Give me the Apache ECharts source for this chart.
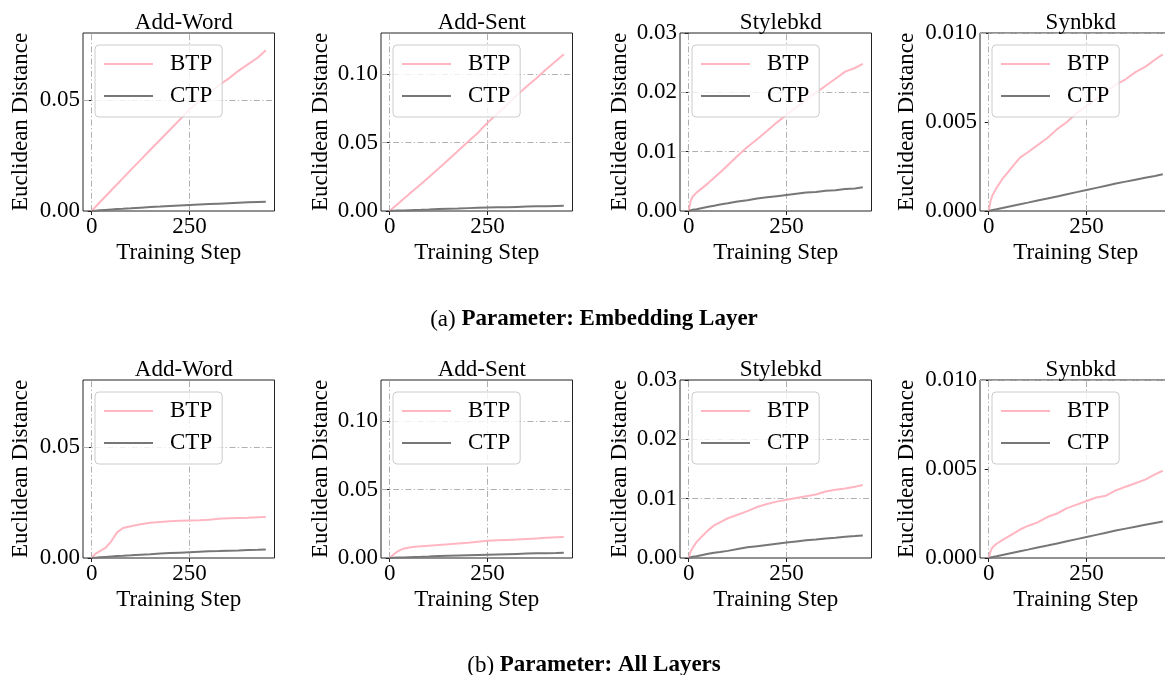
<!DOCTYPE html>
<html>
<head>
<meta charset="utf-8">
<script src="https://cdn.jsdelivr.net/npm/echarts@6/dist/echarts.min.js"></script>
<style>
  html, body { margin: 0; padding: 0; background: #fff; }
  #chart { width: 1165px; height: 675px; }
</style>
</head>
<body>
<div id="chart"></div>
<script>
// ---------------- data ----------------
const steps = [0, 5, 10, 20, 35, 50, 65, 80, 100, 125, 150, 175, 200, 225, 250, 275, 300, 325, 350, 375, 400, 425, 445];

const panelTitles = ['Add-Word', 'Add-Sent', 'Stylebkd', 'Synbkd'];
const seriesNames = ['BTP', 'CTP'];
const xTickValues = [0, 250];
const yMaxValues = [0.08, 0.13, 0.03, 0.01];
const yTickValues = [[0, 0.05], [0, 0.05, 0.10], [0, 0.01, 0.02, 0.03], [0, 0.005, 0.010]];
const yTickDecimals = [2, 2, 2, 3];
const captions = [['(a) ', 'Parameter: Embedding Layer'], ['(b) ', 'Parameter: All Layers']];
const xAxisName = 'Training Step';
const yAxisName = 'Euclidean Distance';

// (a) Parameter: Embedding Layer
const emb_addword_btp = [0, 0.001, 0.0019, 0.0038, 0.0065, 0.0093, 0.012, 0.0148, 0.0185, 0.023, 0.0275, 0.032, 0.0365, 0.041, 0.0455, 0.0495, 0.053, 0.0565, 0.0595, 0.063, 0.066, 0.069, 0.0722];
const emb_addword_ctp = [0, 0.0001, 0.00015, 0.0003, 0.0005, 0.0007, 0.0009, 0.001, 0.0012, 0.0015, 0.0018, 0.002, 0.0023, 0.0025, 0.0027, 0.0029, 0.0031, 0.0033, 0.0035, 0.0037, 0.0039, 0.0041, 0.0042];
const emb_addsent_btp = [0, 0.0012, 0.0025, 0.005, 0.0087, 0.0125, 0.016, 0.0197, 0.0247, 0.031, 0.0375, 0.044, 0.0505, 0.057, 0.0645, 0.071, 0.0775, 0.0845, 0.091, 0.097, 0.1035, 0.1095, 0.1145];
const emb_addsent_ctp = [0, 0.0001, 0.00015, 0.0003, 0.0004, 0.0006, 0.0008, 0.0009, 0.0011, 0.0014, 0.0016, 0.0018, 0.0021, 0.0023, 0.0025, 0.0027, 0.0028, 0.003, 0.0032, 0.0034, 0.0035, 0.0037, 0.0038];
const emb_style_btp = [0, 0.0017, 0.0024, 0.0031, 0.0039, 0.0047, 0.0056, 0.0065, 0.0077, 0.0093, 0.0108, 0.0121, 0.0135, 0.0149, 0.0162, 0.0175, 0.0188, 0.0199, 0.0211, 0.0223, 0.0235, 0.0241, 0.0248];
const emb_style_ctp = [0, 0.0001, 0.0002, 0.0003, 0.0005, 0.0007, 0.0009, 0.0011, 0.0013, 0.0016, 0.0018, 0.0021, 0.0023, 0.0025, 0.0027, 0.0029, 0.0031, 0.0032, 0.0034, 0.0035, 0.0037, 0.0038, 0.004];
const emb_syn_btp = [0, 0.0006, 0.0009, 0.0013, 0.0018, 0.0022, 0.0026, 0.003, 0.0033, 0.0037, 0.0041, 0.0046, 0.005, 0.0055, 0.0059, 0.0063, 0.0067, 0.0071, 0.0074, 0.0078, 0.0081, 0.0085, 0.0088];
const emb_syn_ctp = [0, 0.00003, 0.00006, 0.0001, 0.00017, 0.00024, 0.00031, 0.00038, 0.00047, 0.00059, 0.0007, 0.00082, 0.00094, 0.00106, 0.00118, 0.0013, 0.00142, 0.00154, 0.00165, 0.00176, 0.00187, 0.00197, 0.00206];

// (b) Parameter: All Layers
const all_addword_btp = [0, 0.001, 0.002, 0.003, 0.0045, 0.0075, 0.0115, 0.0135, 0.0143, 0.0152, 0.0158, 0.0162, 0.0165, 0.0167, 0.0169, 0.017, 0.0172, 0.0176, 0.0179, 0.018, 0.0181, 0.0183, 0.0184];
const all_addword_ctp = [0, 0.0001, 0.00015, 0.0003, 0.0005, 0.0007, 0.0009, 0.001, 0.0012, 0.0015, 0.0017, 0.002, 0.0022, 0.0024, 0.0026, 0.0028, 0.003, 0.0031, 0.0033, 0.0034, 0.0036, 0.0037, 0.0038];
const all_addsent_btp = [0, 0.0012, 0.0025, 0.0048, 0.0068, 0.0077, 0.0082, 0.0086, 0.009, 0.0095, 0.01, 0.0106, 0.0112, 0.0119, 0.0126, 0.0129, 0.0132, 0.0135, 0.0139, 0.0143, 0.0147, 0.0151, 0.0154];
const all_addsent_ctp = [0, 0.0001, 0.00015, 0.0003, 0.0004, 0.0006, 0.0008, 0.0009, 0.0011, 0.0014, 0.0016, 0.0018, 0.002, 0.0022, 0.0024, 0.0026, 0.0028, 0.003, 0.0032, 0.0034, 0.0035, 0.0037, 0.0039];
const all_style_btp = [0, 0.0011, 0.0017, 0.0027, 0.0037, 0.0047, 0.0055, 0.006, 0.0067, 0.0073, 0.0079, 0.0086, 0.0091, 0.0095, 0.0098, 0.0101, 0.0104, 0.0107, 0.0112, 0.0115, 0.0117, 0.012, 0.0123];
const all_style_ctp = [0, 0.0001, 0.0002, 0.0003, 0.0005, 0.0007, 0.0009, 0.001, 0.0012, 0.0015, 0.0018, 0.002, 0.0022, 0.0024, 0.0026, 0.0028, 0.003, 0.0031, 0.0033, 0.0034, 0.0036, 0.0037, 0.0038];
const all_syn_btp = [0, 0.0004, 0.0006, 0.0008, 0.001, 0.0012, 0.0014, 0.0016, 0.0018, 0.002, 0.0023, 0.0025, 0.0028, 0.003, 0.0032, 0.0034, 0.0035, 0.0038, 0.004, 0.0042, 0.0044, 0.0047, 0.0049];
const all_syn_ctp = [0, 0.00003, 0.00006, 0.0001, 0.00017, 0.00024, 0.00031, 0.00038, 0.00047, 0.00059, 0.0007, 0.00082, 0.00094, 0.00106, 0.00118, 0.0013, 0.00142, 0.00154, 0.00165, 0.00176, 0.00187, 0.00197, 0.00205];

const rowData = [
  [[emb_addword_btp, emb_addword_ctp], [emb_addsent_btp, emb_addsent_ctp], [emb_style_btp, emb_style_ctp], [emb_syn_btp, emb_syn_ctp]],
  [[all_addword_btp, all_addword_ctp], [all_addsent_btp, all_addsent_ctp], [all_style_btp, all_style_ctp], [all_syn_btp, all_syn_ctp]]
];

// ---------------- layout / style ----------------
const FONT = 'Liberation Serif';
const FS = 23;
const colLeft = [83, 381, 680, 980];
const rowTop = [33, 380];
const gridW = 191.5, gridH = 178;
const yNameGap = [51, 49, 49, 62];
const colors = ['#ffb6c1', '#777777'];
const captionY = [303, 649];

const grids = [], xAxes = [], yAxes = [], series = [], titles = [], legends = [];
let idx = 0;
for (let r = 0; r < 2; r++) {
  for (let c = 0; c < 4; c++) {
    const left = colLeft[c], top = rowTop[r];
    grids.push({ left: left, top: top, width: gridW, height: gridH, show: true, borderColor: '#222', borderWidth: 1, backgroundColor: 'transparent', containLabel: false, outerBoundsMode: 'none' });
    xAxes.push({
      type: 'value', gridIndex: idx, min: -22.25, max: 467.25,
      name: xAxisName, nameLocation: 'middle', nameGap: 30,
      nameTextStyle: { fontFamily: FONT, fontSize: FS, color: '#000' },
      axisLine: { show: false },
      axisTick: { show: true, length: 4, customValues: xTickValues, lineStyle: { color: '#222', width: 1 } },
      axisLabel: { show: true, customValues: xTickValues, margin: 4, fontFamily: FONT, fontSize: FS, color: '#000', formatter: v => String(Math.round(v)) },
      splitLine: { show: false }
    });
    const dec = yTickDecimals[c];
    yAxes.push({
      type: 'value', gridIndex: idx, min: 0, max: yMaxValues[c],
      name: yAxisName, nameLocation: 'middle', nameGap: yNameGap[c], nameRotate: 90,
      nameTextStyle: { fontFamily: FONT, fontSize: FS, color: '#000' },
      axisLine: { show: false },
      axisTick: { show: true, length: 4, customValues: yTickValues[c], lineStyle: { color: '#222', width: 1 } },
      axisLabel: { show: true, customValues: yTickValues[c], margin: 3, fontFamily: FONT, fontSize: FS, color: '#000', formatter: v => Number(v).toFixed(dec) },
      splitLine: { show: false }
    });
    const gridMarks = [{ xAxis: xTickValues[0] }, { xAxis: xTickValues[1] }];
    yTickValues[c].forEach(v => { if (v > 0 && v < yMaxValues[c] - 1e-9) gridMarks.push({ yAxis: v }); });
    for (let s = 0; s < 2; s++) {
      const vals = rowData[r][c][s];
      const ser = {
        name: seriesNames[s], type: 'line', xAxisIndex: idx, yAxisIndex: idx,
        data: steps.map((x, j) => [x, vals[j]]),
        showSymbol: false, symbol: 'none', smooth: false, animation: false,
        lineStyle: { color: colors[s], width: 2 },
        itemStyle: { color: colors[s] },
        z: 3 + s
      };
      if (s === 0) {
        ser.markLine = {
          silent: true, symbol: ['none', 'none'], animation: false, z: 1,
          label: { show: false },
          lineStyle: { color: '#b0b0b0', width: 1, type: [6, 2.5, 1.2, 2.5] },
          emphasis: { disabled: true },
          data: gridMarks
        };
      }
      series.push(ser);
    }
    titles.push({
      text: panelTitles[c], left: left + gridW / 2, top: top - 27, textAlign: 'center',
      textStyle: { fontFamily: FONT, fontSize: FS, fontWeight: 'normal', color: '#000' }
    });
    legends.push({
      left: left + 12, top: top + 12, orient: 'vertical', data: seriesNames,
      icon: 'rect', itemWidth: 49, itemHeight: 2, itemGap: 8, selectedMode: false,
      textStyle: { fontFamily: FONT, fontSize: FS, color: '#000', lineHeight: 24, padding: [0, 0, 0, 12] },
      backgroundColor: 'rgba(255,255,255,0.8)', borderColor: '#cccccc', borderWidth: 1, borderRadius: 4,
      padding: [7, 10, 9, 9]
    });
    idx++;
  }
}
for (let r = 0; r < 2; r++) {
  titles.push({
    text: '{a|' + captions[r][0] + '}{b|' + captions[r][1] + '}',
    left: 589, top: captionY[r], textAlign: 'center',
    textStyle: {
      rich: {
        a: { fontFamily: FONT, fontSize: FS, fontWeight: 'normal', color: '#000' },
        b: { fontFamily: FONT, fontSize: FS, fontWeight: 'bold', color: '#000' }
      }
    }
  });
}

const chart = echarts.init(document.getElementById('chart'), null, { renderer: 'canvas' });
chart.setOption({
  backgroundColor: '#ffffff',
  animation: false,
  title: titles,
  legend: legends,
  grid: grids,
  xAxis: xAxes,
  yAxis: yAxes,
  series: series
});
</script>
</body>
</html>
